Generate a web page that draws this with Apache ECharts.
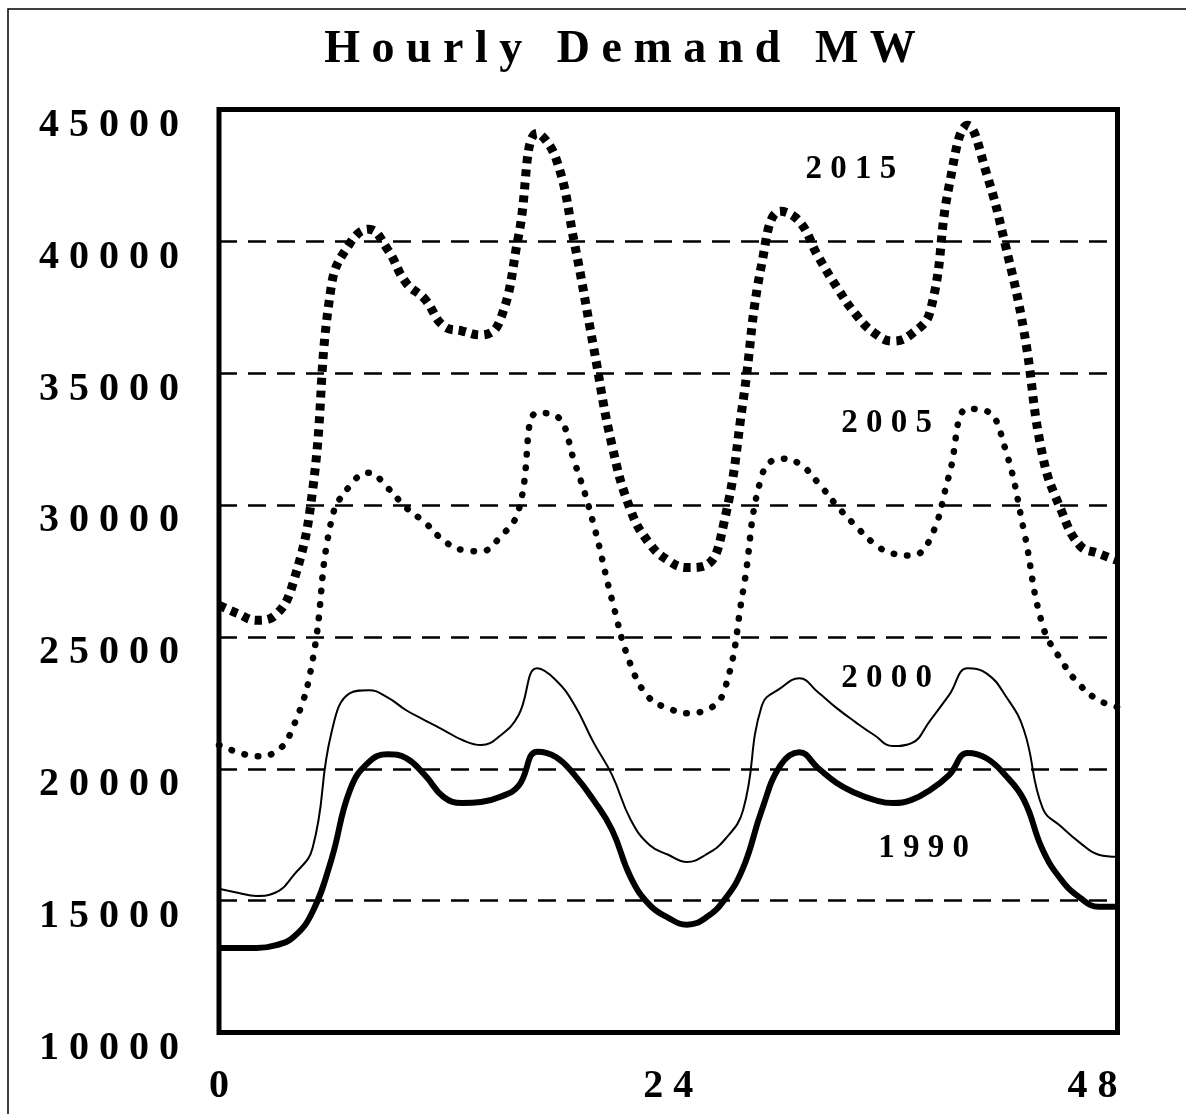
<!DOCTYPE html>
<html>
<head>
<meta charset="utf-8">
<title>Hourly Demand MW</title>
<script src="https://cdn.jsdelivr.net/npm/echarts@6/dist/echarts.min.js"></script>
<style>
  html, body { margin: 0; padding: 0; background: #ffffff; }
  #chart { width: 1186px; height: 1114px; }
</style>
</head>
<body>
<div id="chart"></div>
<script>
// Two days of hourly load, hour 0 to hour 48
const hours = [0,1,2,3,4,5,6,7,8,9,10,11,12,13,14,15,16,17,18,19,20,21,22,23,24,
               25,26,27,28,29,30,31,32,33,34,35,36,37,38,39,40,41,42,43,44,45,46,47,48];

const demand1990 = [13200,13200,13200,13300,13630,14580,16550,19200,20250,20550,20400,19760,18930,
                    18700,18740,18930,19350,20650,20450,19760,18820,17680,15870,14840,14350,
                    14090,14350,15030,16240,18440,20140,20630,20030,19460,19080,18820,18700,
                    18820,19200,19760,20600,20400,19760,18820,16930,15790,15110,14770,14770];

const demand2000 = [15450,15300,15180,15300,15980,17000,21350,22870,22980,22710,22220,21840,21470,
                    21090,20900,21240,22030,23810,23360,22410,21010,19760,18060,17110,16740,
                    16470,16740,17300,18440,22400,23060,23430,22900,22300,21770,21280,20860,
                    20970,21840,22790,23810,23620,22790,21470,18510,17800,17190,16740,16660];

const demand2005 = [20900,20630,20480,20630,21650,24110,29410,30740,31230,30660,29900,29340,28660,
                    28300,28250,28770,29790,33500,33390,31610,29300,26390,23930,22680,22300,
                    22110,22220,22980,26760,31120,31760,31570,30850,29980,29220,28540,28160,
                    28090,28730,31120,33650,33570,32140,29030,25440,24110,23170,22600,22340];

const demand2015 = [26200,25890,25630,25820,27140,30550,38300,39930,40460,39700,38420,37810,36790,
                    36600,36450,36980,40200,44100,43150,39890,36030,32250,29790,28540,27900,
                    27630,27710,29410,33950,39170,41140,40760,39440,38270,37250,36530,36220,
                    36490,37360,42090,44400,42580,39890,36600,31870,29790,28460,28160,27900];

const yTicks = { min: 10000, max: 45000, step: 5000 };
const xTicks = { min: 0, max: 48, step: 24 };

const serifBold = { fontFamily: '"Liberation Serif", "Times New Roman", serif', fontWeight: 'bold', color: '#000' };
const spaced = s => String(s).split('').join(' ');

function pairs(values) {
  return hours.map((h, i) => [h, values[i]]);
}

// Year caption placed in data space next to its curve
function yearTag(name, x, y) {
  return {
    symbol: 'circle',
    symbolSize: 1,
    itemStyle: { color: 'transparent' },
    label: Object.assign({ show: true, position: 'inside', fontSize: 33, formatter: () => spaced(name) }, serifBold),
    data: [{ coord: [x, y] }],
    animation: false
  };
}

const chart = echarts.init(document.getElementById('chart'), null, { renderer: 'canvas' });

chart.setOption({
  backgroundColor: '#ffffff',
  animation: false,
  title: {
    text: 'H o u r l y   D e m a n d   M W',
    left: 615,
    top: 22,
    textAlign: 'center',
    textStyle: Object.assign({ fontSize: 46 }, serifBold)
  },
  graphic: [
    { type: 'polyline', shape: { points: [[8, 1114], [8, 9], [1186, 9]] }, style: { stroke: '#000', lineWidth: 1.5, fill: null } }
  ],
  grid: {
    left: 219, right: 68.5, top: 109.5, bottom: 81.5,
    show: true, borderColor: '#000', borderWidth: 5, backgroundColor: 'transparent'
  },
  xAxis: {
    type: 'value',
    min: xTicks.min, max: xTicks.max, interval: xTicks.step,
    axisLine: { show: false },
    axisTick: { show: false },
    splitLine: { show: false },
    axisLabel: Object.assign({ fontSize: 40, margin: 34, alignMaxLabel: 'right', formatter: v => spaced(v) }, serifBold)
  },
  yAxis: {
    type: 'value',
    min: yTicks.min, max: yTicks.max, interval: yTicks.step,
    axisLine: { show: false },
    axisTick: { show: false },
    splitLine: { show: true, lineStyle: { color: '#000', width: 2.5, type: [18, 11] } },
    axisLabel: Object.assign({ fontSize: 40, margin: 40, verticalAlign: 'top', lineHeight: 32, formatter: v => spaced(v) }, serifBold)
  },
  series: [
    {
      name: '2015', type: 'line', data: pairs(demand2015), smooth: 0.45, showSymbol: false,
      lineStyle: { color: '#000', width: 9, type: [7, 6], cap: 'butt' },
      markPoint: yearTag('2015', 33.76, 42730)
    },
    {
      name: '2005', type: 'line', data: pairs(demand2005), smooth: 0.45, showSymbol: false,
      lineStyle: { color: '#000', width: 6.5, type: [0.5, 13], cap: 'round' },
      markPoint: yearTag('2005', 35.67, 33080)
    },
    {
      name: '2000', type: 'line', data: pairs(demand2000), smooth: 0.45, showSymbol: false,
      lineStyle: { color: '#000', width: 2 },
      markPoint: yearTag('2000', 35.67, 23430)
    },
    {
      name: '1990', type: 'line', data: pairs(demand1990), smooth: 0.45, showSymbol: false,
      lineStyle: { color: '#000', width: 6 },
      markPoint: yearTag('1990', 37.64, 16960)
    }
  ]
});
</script>
</body>
</html>
